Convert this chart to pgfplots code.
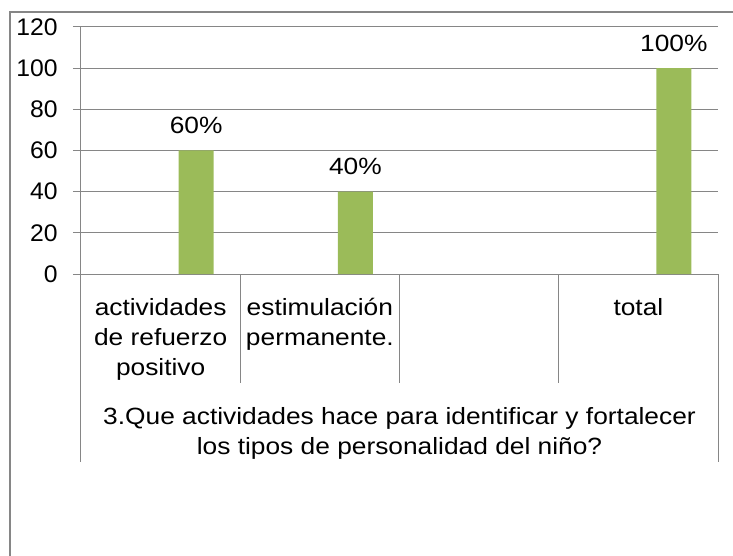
\documentclass[border=0pt]{standalone}
\usepackage{fontspec}
\setmainfont{Liberation Sans}[FakeStretch=1.12]
\newfontfamily\numfont{Liberation Sans}[FakeStretch=1.03]
\usepackage{pgfplots}
\pgfplotsset{compat=1.18}
\definecolor{barg}{HTML}{9BBB59}
\definecolor{lgray}{HTML}{868686}
\begin{document}
\begin{tikzpicture}[font=\fontsize{11.75}{15}\selectfont]
\useasboundingbox (-40.5pt,-141pt) rectangle (326pt,137pt);
\draw[lgray, line width=0.75pt] (-35.5pt,-141pt) -- (-35.5pt,131pt) -- (330pt,131pt);
\begin{axis}[
  at={(0,0)}, anchor=south west, scale only axis,
  width=318.5pt, height=123.5pt,
  xmin=0.5, xmax=4.5, ymin=0, ymax=120,
  ytick={0,20,...,120},
  xtick={1,2,3,4},
  xticklabels={{actividades\\de refuerzo\\positivo},{estimulación\\permanente.},{},{total}},
  axis lines*=left,
  axis line style={lgray, line width=0.5pt, -},
  ymajorgrids, grid style={lgray, line width=0.5pt},
  y tick style={lgray, line width=0.5pt},
  x tick style={draw=none},
  tick align=outside, major tick length=4pt,
  /pgf/number format/assume math mode=true,
  ticklabel style={text=black},
  yticklabel style={inner sep=0pt, anchor=east, xshift=-7.5pt, font=\numfont\fontsize{12}{15}\selectfont},
  xticklabel style={align=center, anchor=north, inner sep=0pt, yshift=-8pt, font=\fontsize{11.75}{15}\selectfont},
  xlabel={3.Que actividades hace para identificar y fortalecer\\los tipos de personalidad del niño?},
  xlabel style={align=center, at={(axis description cs:0.5,0)}, anchor=north, inner sep=0pt, yshift=-66.5pt, font=\fontsize{11.75}{15}\selectfont},
  clip=false,
  ybar, bar width=17.5pt, bar shift=17.75pt,
  point meta=explicit symbolic,
  nodes near coords,
  nodes near coords style={anchor=base, inner sep=0pt, yshift=8.5pt, text=black, font=\fontsize{11.75}{15}\selectfont},
]
\addplot[fill=barg, draw=none]
  coordinates {(1,60) [60\%] (2,40) [40\%] (4,100) [100\%]};
\draw[lgray, line width=0.5pt] (axis cs:1.5,0) -- ([yshift=-54.5pt]axis cs:1.5,0);
\draw[lgray, line width=0.5pt] (axis cs:2.5,0) -- ([yshift=-54.5pt]axis cs:2.5,0);
\draw[lgray, line width=0.5pt] (axis cs:3.5,0) -- ([yshift=-54.5pt]axis cs:3.5,0);
\draw[lgray, line width=0.5pt] (axis cs:0.5,0) -- ([yshift=-94pt]axis cs:0.5,0);
\draw[lgray, line width=0.5pt] (axis cs:4.5,0) -- ([yshift=-94pt]axis cs:4.5,0);
\end{axis}
\end{tikzpicture}
\end{document}
